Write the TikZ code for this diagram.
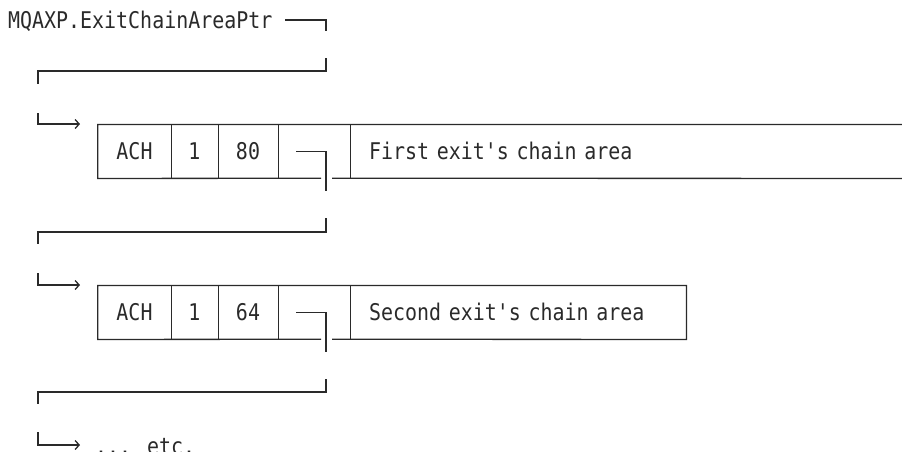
\documentclass[tikz,border=0pt]{standalone}
\usepackage{fontspec}
\usetikzlibrary{arrows.meta}
\newfontfamily\chainfont[FakeStretch=0.867,Ligatures=TeXOff]{DejaVu Sans Mono}
\definecolor{ink}{HTML}{2A2A2A}
\tikzset{
	cell/.style={shape=rectangle, inner sep=0pt, minimum height=53.5pt, text height=16pt, text depth=0pt, font=\chainfont\fontsize{23}{27}\selectfont, text=ink},
	frame/.style={draw=ink, line width=1.3pt},
	link/.style={draw=ink, line width=1.3pt},
	into/.style={link, -{Straight Barb[length=4pt,width=9pt]}},
}
\begin{document}
\begin{tikzpicture}[x=1pt,y=-1pt]	% Nodes, frames and links:
			\useasboundingbox (0,0) rectangle (902,451);
			\node[cell, anchor=west, minimum height=0pt] (ptr) at (8,20) {MQAXP.ExitChainAreaPtr};
			% first chain area
			\node[cell, minimum width=73pt] (ach1) at (134.5,151.5) {ACH};
			\node[cell, minimum width=47pt] (ver1) at (194.5,151.5) {1};
			\node[cell, minimum width=60pt] (len1) at (248,151.5) {80};
			\node[cell, minimum width=72pt] (nxt1) at (314,151.5) {};
			\node[cell, anchor=west, text width=517pt, inner xsep=19pt, align=left] (area1) at (350,151.5) {First exit's chain area};
			% second chain area
			\node[cell, minimum width=73pt] (ach2) at (134.5,312.5) {ACH};
			\node[cell, minimum width=47pt] (ver2) at (194.5,312.5) {1};
			\node[cell, minimum width=60pt] (len2) at (248,312.5) {64};
			\node[cell, minimum width=72pt] (nxt2) at (314,312.5) {};
			\node[cell, anchor=west, text width=298pt, inner xsep=19pt, align=left] (area2) at (350,312.5) {Second exit's chain area};
			\node[cell, anchor=west, minimum height=0pt] (etc) at (95,446) {... etc.};
			% free ends of the links
			\coordinate (p0) at (285,20);
			\coordinate (gapL1) at (321,178.25);
			\coordinate (gapR1) at (332,178.25);
			\coordinate (gapL2) at (321,339.25);
			\coordinate (gapR2) at (332,339.25);
			\coordinate (p1) at (296,151.5);
			\coordinate (p2) at (296,312.5);
			% frames
			\draw[frame] (area1.north east) -- (ach1.north west) -- (ach1.south west) -- (gapL1);
			\draw[frame] (gapR1) -- (area1.south east);
			\draw[frame] (ach1.north east) -- (ach1.south east) (ver1.north east) -- (ver1.south east) (len1.north east) -- (len1.south east) (nxt1.north east) -- (nxt1.south east);
			\draw[frame] (gapR2) -- (area2.south east) -- (area2.north east) -- (ach2.north west) -- (ach2.south west) -- (gapL2);
			\draw[frame] (ach2.north east) -- (ach2.south east) (ver2.north east) -- (ver2.south east) (len2.north east) -- (len2.south east) (nxt2.north east) -- (nxt2.south east);
			% links
			\draw[link] (p0) -- (326,20) -- (326,31);
			\draw[link] (326,58) -- (326,71) -- (38,71) -- (38,84);
			\draw[into] (38,113) -- (38,124) -- (80,124);
			\draw[link] (p1) -- (326,151.5) -- (326,191);
			\draw[link] (326,218) -- (326,232) -- (38,232) -- (38,244);
			\draw[into] (38,273) -- (38,285) -- (80,285);
			\draw[link] (p2) -- (326,312.5) -- (326,352);
			\draw[link] (326,379) -- (326,392) -- (38,392) -- (38,404);
			\draw[into] (38,432) -- (38,445) -- (80,445);
		\end{tikzpicture}
\end{document}
